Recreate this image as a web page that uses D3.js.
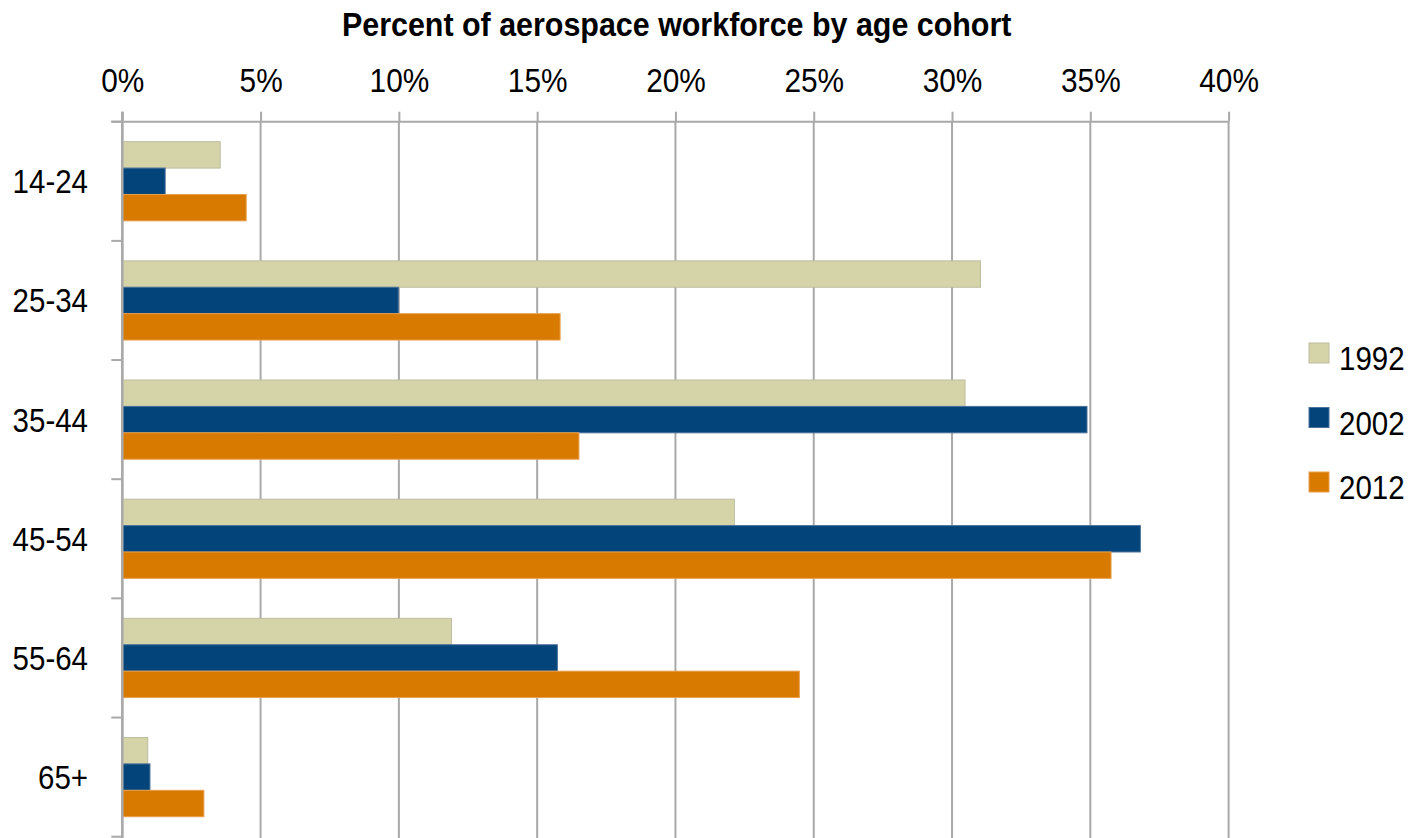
<!DOCTYPE html>
<html>
<head>
<meta charset="utf-8">
<script src="https://cdn.jsdelivr.net/npm/d3@7"></script>
<style>
  html, body { margin: 0; padding: 0; background: #fff; }
  svg { display: block; }
  text { font-family: "Liberation Sans Narrow", "Arial Narrow", "Liberation Sans", Arial, sans-serif; fill: #000; }
</style>
</head>
<body>
<script>
// Age cohorts and share of aerospace workforce (%) per survey year
const cohorts = ["14-24", "25-34", "35-44", "45-54", "55-64", "65+"];
const years = ["1992", "2002", "2012"];
const values1992 = [3.54, 31.03, 30.47, 22.13, 11.9, 0.92];
const values2002 = [1.55, 9.98, 34.88, 36.81, 15.73, 1.0];
const values2012 = [4.48, 15.83, 16.51, 35.75, 24.48, 2.95];
const xTicks = [0, 5, 10, 15, 20, 25, 30, 35, 40];
const colors = ["#D5D4A8", "#03457A", "#D87A00"];
const strokes = ["#BDBCA0", "#4A7099", "#E8A050"];
const titleText = "Percent of aerospace workforce by age cohort";

const W = 1412, H = 838;
const plot = { left: 122.3, right: 1228.6, top: 121.7, bottom: 836.7 };

// Horizontal squeeze so regular sans text reads like a narrow face
function condense(sel, sx) {
  sel.each(function () {
    const t = d3.select(this);
    const cx = +t.attr("x") || 0;
    t.attr("transform", `translate(${cx},0) scale(${sx},1) translate(${-cx},0)`);
  });
}

const seriesValues = [values1992, values2002, values2012];
const rows = cohorts.map((c, i) => ({
  cohort: c,
  vals: years.map((y, k) => ({ year: y, k, v: seriesValues[k][i] }))
}));

const svg = d3.select("body").append("svg").attr("width", W).attr("height", H);

const x = d3.scaleLinear().domain([0, 40]).range([plot.left, plot.right]);
const y = d3.scaleBand().domain(cohorts).range([plot.top, plot.bottom]).padding(0);
const inner = d3.scaleBand().domain(years).range([0, y.bandwidth()]).paddingInner(0).paddingOuter(0.757);
const color = d3.scaleOrdinal().domain(years).range(colors);
const stroke = d3.scaleOrdinal().domain(years).range(strokes);

const gridColor = "#A9A9A9";

// Vertical gridlines
svg.append("g").selectAll("line").data(xTicks).join("line")
  .attr("x1", d => x(d)).attr("x2", d => x(d))
  .attr("y1", plot.top).attr("y2", H)
  .attr("stroke", gridColor).attr("stroke-width", 2);

// Top axis with percent labels
const xAxis = svg.append("g")
  .attr("transform", `translate(0,${plot.top})`)
  .call(d3.axisTop(x).tickValues(xTicks).tickSize(10).tickPadding(20).tickFormat(d => d + "%"));
xAxis.select(".domain").attr("stroke", gridColor).attr("stroke-width", 2)
  .attr("d", `M${plot.left - 11},0H${plot.right}`);
xAxis.selectAll(".tick line").attr("stroke", gridColor).attr("stroke-width", 2);
xAxis.selectAll(".tick text")
  .style("font-size", "33.5px").style("font-family", null).attr("fill", "#000")
  .call(condense, 0.89);

// Bars
const groups = svg.append("g").selectAll("g").data(rows).join("g")
  .attr("transform", d => `translate(0,${y(d.cohort)})`);
groups.selectAll("rect").data(d => d.vals).join("rect")
  .attr("x", x(0))
  .attr("y", d => inner(d.year))
  .attr("width", d => x(d.v) - x(0))
  .attr("height", inner.bandwidth())
  .attr("fill", d => color(d.year))
  .attr("stroke", d => stroke(d.year))
  .attr("stroke-width", 1);

// Left axis: line, ticks at category boundaries, labels at band centres
const yAxis = svg.append("g");
yAxis.append("line")
  .attr("x1", plot.left).attr("x2", plot.left)
  .attr("y1", plot.top - 10).attr("y2", H)
  .attr("stroke", gridColor).attr("stroke-width", 2.5);
const bounds = cohorts.map(c => y(c)).concat([y(cohorts[cohorts.length - 1]) + y.bandwidth()]);
yAxis.selectAll(".btick").data(bounds).join("line")
  .attr("class", "btick")
  .attr("x1", plot.left - 11).attr("x2", plot.left)
  .attr("y1", d => d).attr("y2", d => d)
  .attr("stroke", gridColor).attr("stroke-width", 2);
yAxis.selectAll(".ylab").data(cohorts).join("text")
  .attr("class", "ylab")
  .attr("x", 88)
  .attr("y", d => y(d) + y.bandwidth() / 2)
  .attr("dy", "0.36em")
  .attr("text-anchor", "end")
  .style("font-size", "33.5px")
  .text(d => d)
  .call(condense, 0.88);

// Title
svg.append("text")
  .attr("x", 676.7).attr("y", 36)
  .attr("text-anchor", "middle")
  .style("font-size", "34px").style("font-weight", "bold")
  .text(titleText)
  .call(condense, 0.895);

// Legend
const legend = svg.append("g").selectAll("g").data(years).join("g")
  .attr("transform", (d, i) => `translate(1309,${343 + i * 64.5})`);
legend.append("rect")
  .attr("width", 20).attr("height", 20)
  .attr("fill", d => color(d)).attr("stroke", d => stroke(d)).attr("stroke-width", 1);
legend.append("text")
  .attr("x", 30).attr("y", 27)
  .style("font-size", "33.5px")
  .text(d => d)
  .call(condense, 0.88);
</script>
</body>
</html>
